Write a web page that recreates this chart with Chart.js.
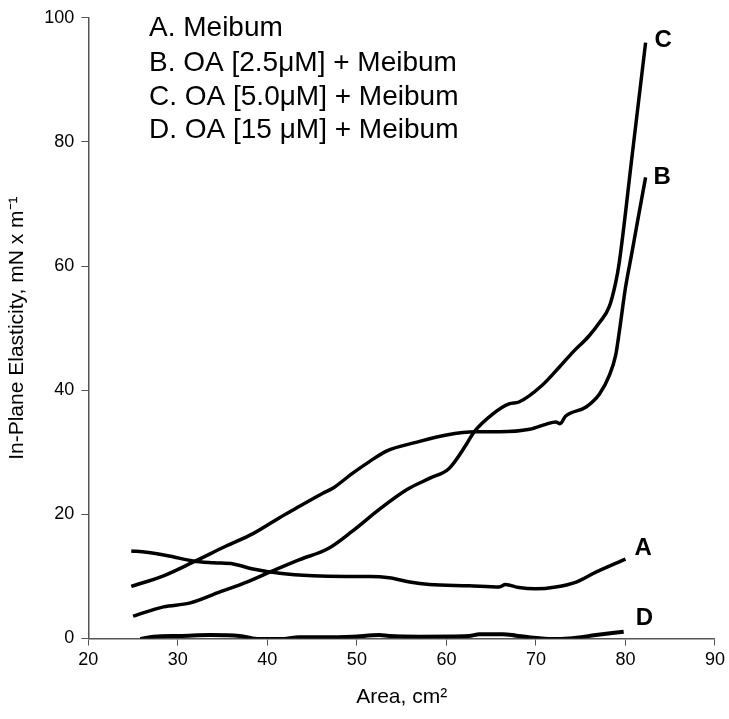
<!DOCTYPE html>
<html><head><meta charset="utf-8">
<script src="https://cdn.jsdelivr.net/npm/chart.js@4/dist/chart.umd.min.js"></script>
<style>html,body{margin:0;padding:0;background:#fff}canvas{display:block}</style>
</head><body>
<canvas id="c" width="729" height="719"></canvas>
<script>
// ---- data ----
const seriesNames = ['A. Meibum', 'B. OA [2.5μM] + Meibum', 'C. OA [5.0μM] + Meibum', 'D. OA [15 μM] + Meibum'];
const curveLabels = ['A', 'B', 'C', 'D'];

const aX = [24.8, 26.5, 29.0, 31.7, 34.0, 36.2, 38.4, 41.4, 45.1, 48.8, 51.4, 53.6, 55.9, 58.1, 62.5, 65.9, 66.6, 68.1, 70.0, 72.2, 74.5, 76.7, 80.0];
const aY = [14.1, 13.9, 13.3, 12.5, 12.2, 12.0, 11.2, 10.5, 10.1, 10.0, 10.0, 9.8, 9.1, 8.7, 8.5, 8.3, 8.7, 8.2, 8.0, 8.3, 9.1, 10.7, 12.8];

const bX = [24.8, 28.4, 31.7, 35.4, 38.4, 41.4, 43.6, 46.2, 47.3, 49.5, 51.4, 53.3, 56.6, 60.0, 63.3, 65.9, 69.3, 71.1, 72.2, 72.7, 73.3, 75.6, 77.1, 78.2, 78.9, 79.3, 80.0, 80.7, 81.4, 82.25];
const bY = [8.4, 10.1, 12.3, 14.9, 16.9, 19.5, 21.3, 23.4, 24.2, 26.6, 28.5, 30.2, 31.6, 32.8, 33.3, 33.3, 33.7, 34.5, 34.9, 34.6, 35.8, 37.3, 39.4, 42.4, 45.6, 49.3, 56.5, 62.0, 67.6, 74.3];

const cX = [25.0, 28.4, 31.3, 34.7, 37.7, 40.6, 43.6, 46.8, 49.5, 52.5, 55.6, 58.1, 60.3, 62.2, 63.1, 65.2, 67.0, 68.1, 70.7, 72.6, 74.1, 75.9, 77.1, 78.2, 78.9, 79.3, 80.76, 82.25];
const cY = [3.6, 5.1, 5.7, 7.5, 9.1, 10.9, 12.7, 14.5, 17.3, 20.8, 24.0, 25.8, 27.4, 31.2, 33.3, 36.2, 37.8, 38.1, 40.8, 43.7, 46.1, 48.7, 50.9, 53.5, 57.3, 60.5, 78.0, 96.0];

const dX = [25.8, 27.3, 30.2, 33.6, 36.9, 39.1, 41.4, 43.6, 46.6, 49.5, 52.5, 53.6, 57.0, 62.5, 63.7, 66.3, 67.8, 69.2, 71.8, 73.7, 76.7, 79.8];
const dY = [-0.1, 0.3, 0.4, 0.55, 0.4, -0.1, -0.1, 0.2, 0.2, 0.3, 0.55, 0.4, 0.3, 0.4, 0.7, 0.7, 0.45, 0.2, -0.1, 0.0, 0.55, 1.1];

const xTicks = [20, 30, 40, 50, 60, 70, 80, 90];
const yTicks = [0, 20, 40, 60, 80, 100];
const xTitle = 'Area, cm²';
const yTitle = 'In-Plane Elasticity, mN x m⁻¹';

// ---- chart ----
const FONT = '"Liberation Sans", Arial, Helvetica, sans-serif';
const pts = (xs, ys) => xs.map((x, i) => ({x: x, y: ys[i]}));
const allSeries = [pts(aX, aY), pts(bX, bY), pts(cX, cY), pts(dX, dY)];

const datasets = allSeries.map((d, i) => ({
  label: seriesNames[i],
  data: d,
  showLine: true,
  borderColor: '#000',
  borderWidth: i === 3 ? 4 : 3.5,
  pointRadius: 0,
  cubicInterpolationMode: 'monotone',
  fill: false
}));

const annotatePlugin = {
  id: 'annot',
  afterDatasetsDraw(chart) {
    const ctx = chart.ctx;
    const xs = chart.scales.x, ys = chart.scales.y;
    ctx.save();
    ctx.fillStyle = '#000';
    ctx.font = '28px ' + FONT;
    ctx.textAlign = 'left';
    ctx.textBaseline = 'alphabetic';
    const baselines = [36, 71, 105, 138];
    seriesNames.forEach((t, i) => ctx.fillText(t, 149, baselines[i]));
    ctx.font = 'bold 24px ' + FONT;
    ctx.textBaseline = 'middle';
    const offs = [[9, -11], [8, 0], [9, -2], [12, -13]];
    allSeries.forEach((d, i) => {
      const last = d[d.length - 1];
      const px = xs.getPixelForValue(last.x) + offs[i][0];
      const py = ys.getPixelForValue(last.y) + offs[i][1];
      ctx.fillText(curveLabels[i], px, py);
    });
    ctx.restore();
  }
};

new Chart(document.getElementById('c'), {
  type: 'scatter',
  data: {datasets: datasets},
  options: {
    responsive: false,
    animation: false,
    events: [],
    layout: {padding: {left: 0, right: 13, top: 12, bottom: 0}},
    plugins: {legend: {display: false}, tooltip: {enabled: false}},
    scales: {
      x: {
        type: 'linear', min: 20, max: 90,
        afterFit(s) { s.height = 80.5; },
        afterBuildTicks(s) { s.ticks = xTicks.map(v => ({value: v})); },
        grid: {display: true, drawOnChartArea: false, drawTicks: true, tickLength: 7, color: '#555', lineWidth: 1},
        border: {display: true, color: '#555', width: 1.5},
        ticks: {color: '#000', font: {size: 18, family: FONT}, padding: 4, maxRotation: 0, autoSkip: false},
        title: {display: true, text: xTitle, color: '#000', font: {size: 21, family: FONT}, padding: {top: 0, bottom: 9}}
      },
      y: {
        type: 'linear', min: 0, max: 100,
        afterFit(s) { s.width = 88.3; },
        afterBuildTicks(s) { s.ticks = yTicks.map(v => ({value: v})); },
        grid: {display: true, drawOnChartArea: false, drawTicks: true, tickLength: 7, color: '#555', lineWidth: 1},
        border: {display: true, color: '#555', width: 1.5},
        ticks: {color: '#000', font: {size: 18, family: FONT}, padding: 7, autoSkip: false},
        title: {display: true, text: yTitle, color: '#000', font: {size: 21, family: FONT}, padding: {top: 5, bottom: 0}}
      }
    }
  },
  plugins: [annotatePlugin]
});
</script>
</body></html>
